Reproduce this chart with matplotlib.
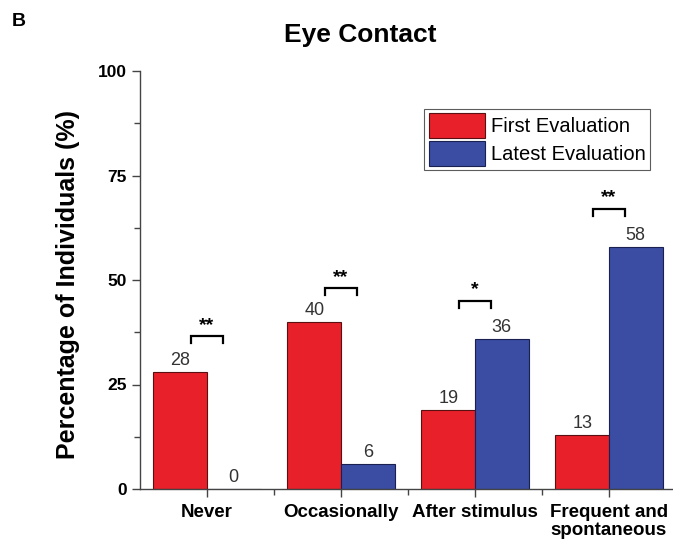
import numpy as np
import matplotlib
matplotlib.use('agg')
import matplotlib.pyplot as plt
from matplotlib.ticker import MultipleLocator, FixedLocator

plt.rcParams['font.family'] = ['Liberation Sans', 'DejaVu Sans']

categories = ['Never', 'Occasionally', 'After stimulus', 'Frequent and\nspontaneous']
first_eval = [28, 40, 19, 13]
latest_eval = [0, 6, 36, 58]
stars = ['**', '**', '*', '**']
bracket_y = [36.5, 48, 45, 67]

red = '#e8202a'
blue = '#3a4da3'


def main():
    fig = plt.figure(figsize=(6.73, 5.42), dpi=100)
    ax = fig.add_axes([140 / 673, 53 / 542, 536 / 673, 418 / 542])

    x = np.arange(len(categories))
    w = 0.40
    ax.bar(x - w / 2, first_eval, w, color=red, edgecolor='#5a1010', linewidth=0.8,
           label='First Evaluation')
    ax.bar(x + w / 2, latest_eval, w, color=blue, edgecolor='#1a2050', linewidth=0.8,
           label='Latest Evaluation')

    for i in range(len(categories)):
        ax.text(x[i] - w / 2, first_eval[i] + 0.6, str(first_eval[i]), ha='center',
                va='bottom', fontsize=13, color='#333333')
        ax.text(x[i] + w / 2, latest_eval[i] + 0.6, str(latest_eval[i]), ha='center',
                va='bottom', fontsize=13, color='#333333')
        # significance bracket
        y = bracket_y[i]
        xl, xr = x[i] - 0.12, x[i] + 0.12
        ax.plot([xl, xl, xr, xr], [y - 1.6, y, y, y - 1.6], color='black', lw=1.6,
                solid_joinstyle='miter', clip_on=False)
        ax.text(x[i], y + 0.6, stars[i], ha='center', va='bottom', fontsize=14,
                fontweight='bold')

    ax.set_xlim(-0.5, len(categories) - 0.5)
    ax.set_ylim(0, 100)
    ax.set_xticks(x)
    ax.set_xticklabels(categories, fontsize=13.5, fontweight='bold', linespacing=1.05)
    ax.xaxis.set_minor_locator(FixedLocator(x[:-1] + 0.5))
    ax.yaxis.set_major_locator(MultipleLocator(25))
    ax.yaxis.set_minor_locator(MultipleLocator(12.5))
    for lab in ax.get_yticklabels():
        lab.set_fontweight('bold')
        lab.set_fontsize(12.5)

    ax.tick_params(axis='both', which='major', direction='out', length=6, width=1,
                   color='#444444')
    ax.tick_params(axis='both', which='minor', direction='out', length=4, width=1,
                   color='#444444')
    ax.tick_params(axis='x', pad=5)

    for side in ['top', 'right']:
        ax.spines[side].set_visible(False)
    for side in ['left', 'bottom']:
        ax.spines[side].set_color('#444444')
        ax.spines[side].set_linewidth(1)

    ax.set_ylabel('Percentage of Individuals (%)', fontsize=18, fontweight='bold')
    ax.yaxis.set_label_coords(-0.112, 0.49)

    leg = ax.legend(loc='upper right', bbox_to_anchor=(0.951, 0.909), fontsize=14.5,
                    frameon=True, fancybox=False, edgecolor='#333333',
                    handlelength=2.8, handleheight=1.55, handletextpad=0.3,
                    borderpad=0.2, labelspacing=0.12, borderaxespad=0)
    leg.get_frame().set_linewidth(0.8)

    fig.text(360 / 673, 1 - 35 / 542, 'Eye Contact', ha='center', va='center',
             fontsize=19, fontweight='bold')
    fig.text(12 / 673, 1 - 22 / 542, 'B', ha='left', va='center', fontsize=14,
             fontweight='bold')

    plt.savefig('out.png', dpi=100)


if __name__ == '__main__':
    main()
